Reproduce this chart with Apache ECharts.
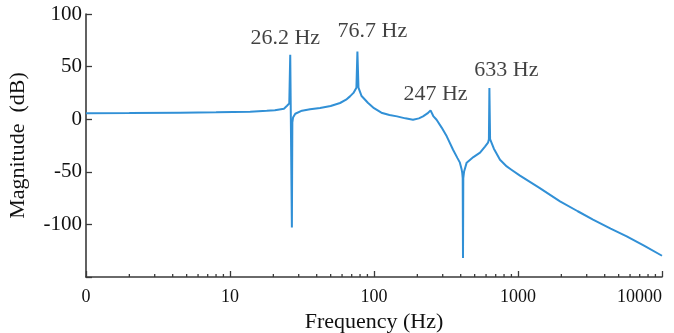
<!DOCTYPE html>
<html>
<head>
<meta charset="utf-8">
<script src="https://cdn.jsdelivr.net/npm/echarts@6/dist/echarts.min.js"></script>
<style>html,body{margin:0;padding:0;background:#fff}#c{width:674px;height:333px}</style>
</head>
<body>
<div id="c"></div>
<script>
// Frequency (Hz) and magnitude (dB)
const freq = [1, 2, 4.5, 8, 13.8, 18, 20.5, 23.7, 24.9, 25.8, 26.2, 26.9, 27.1, 27.4, 28.4, 31.6, 36, 42.2, 50, 58.1, 64, 68.1, 72, 75.5, 76.7, 78, 82, 91, 100, 112.5, 128, 144.5, 165, 186.6, 205, 219, 235, 247, 258, 272, 295, 320, 354, 380, 395, 405, 410, 413, 415, 417, 422, 440, 490, 545, 590, 619, 628, 633, 640, 680, 750, 835, 900, 1032, 1400, 1958, 2600, 3318, 4400, 5689, 7500, 10000];
const mag  = [5.7, 5.8, 6.2, 6.6, 7.1, 8, 8.6, 10, 12.8, 15, 61.3, -103, -3, 1.5, 5.2, 8.1, 9.5, 10.6, 12.5, 15.4, 18.5, 21.7, 25, 30, 64.4, 30, 22, 15.4, 10.5, 6.2, 4, 2.7, 0.8, -0.5, 0.8, 2.7, 5.5, 8.4, 3, -0.5, -8, -16.3, -29, -37, -41.3, -47, -51, -56, -132, -56, -50, -41.3, -36, -31.8, -26, -22.3, -19, 29.7, -19, -28, -38.5, -44.9, -48, -53.7, -65.1, -78.1, -87.5, -95.5, -104, -111.4, -120.2, -129.8];
// Annotated peaks
const peakFreq  = [26.2, 76.7, 247, 633];
const peakMag   = [61.3, 64.4, 8.4, 29.7];
const peakLabel = ['26.2 Hz', '76.7 Hz', '247 Hz', '633 Hz'];
// Axis ticks
const yTicks = [-100, -50, 0, 50, 100];
const xMinorTicks = [2,3,4,5,6,7,8,9,20,30,40,50,60,70,80,90,200,300,400,500,600,700,800,900,2000,3000,4000,5000,6000,7000,8000,9000];

const labelOffsets = [[-5,-16],[15,-20],[5,-16],[17,-18]];
const FONT = '"Liberation Serif", "Times New Roman", serif';
const AX = '#3a3a3a';

const chart = echarts.init(document.getElementById('c'), null, {renderer: 'canvas'});
chart.setOption({
  animation: false,
  grid: {left: 86, right: 12, top: 14, bottom: 56, containLabel: false, outerBoundsMode: 'none'},
  xAxis: {
    type: 'log', logBase: 10, min: 1, max: 10000,
    name: 'Frequency (Hz)', nameLocation: 'middle', nameGap: 31,
    nameTextStyle: {fontFamily: FONT, fontSize: 22, color: '#111'},
    axisLine: {onZero: false, lineStyle: {color: AX, width: 1.6}},
    axisTick: {inside: true, length: 6, lineStyle: {color: AX, width: 1.3}},
    axisLabel: {
      fontFamily: FONT, fontSize: 18, color: '#111', margin: 11,
      alignMaxLabel: 'right', showMaxLabel: true, showMinLabel: true,
      formatter: v => (v === 1 ? '0' : String(v))
    },
    splitLine: {show: false}
  },
  yAxis: {
    type: 'value', min: -150, max: 100, interval: 50,
    name: 'Magnitude  (dB)', nameLocation: 'middle', nameGap: 57, nameRotate: 90,
    nameTextStyle: {fontFamily: FONT, fontSize: 22, color: '#111'},
    axisLine: {lineStyle: {color: AX, width: 1.6}},
    axisTick: {inside: true, length: 6, lineStyle: {color: AX, width: 1.3}},
    axisLabel: {
      fontFamily: FONT, fontSize: 21, color: '#111', margin: 4,
      formatter: v => (yTicks.indexOf(v) >= 0 ? String(v) : '')
    },
    splitLine: {show: false}
  },
  series: [
    {
      type: 'line',
      data: freq.map((f, i) => [f, mag[i]]),
      showSymbol: false, symbol: 'none',
      lineStyle: {color: '#3190d6', width: 2},
      smooth: false, silent: true
    },
    {
      type: 'scatter',
      symbolSize: 0,
      data: peakFreq.map((f, i) => ({
        value: [f, peakMag[i]],
        label: {
          show: true, position: 'inside', offset: labelOffsets[i],
          formatter: peakLabel[i],
          fontFamily: FONT, fontSize: 22, color: '#111'
        }
      })),
      silent: true
    },
    {
      type: 'custom',
      silent: true, clip: false,
      data: xMinorTicks.map(v => [v]),
      renderItem: function (params, api) {
        const p = api.coord([api.value(0), -150]);
        return {
          type: 'line',
          shape: {x1: p[0], y1: p[1], x2: p[0], y2: p[1] - 3},
          style: {stroke: AX, lineWidth: 1.3}
        };
      }
    }
  ]
});
</script>
</body>
</html>
